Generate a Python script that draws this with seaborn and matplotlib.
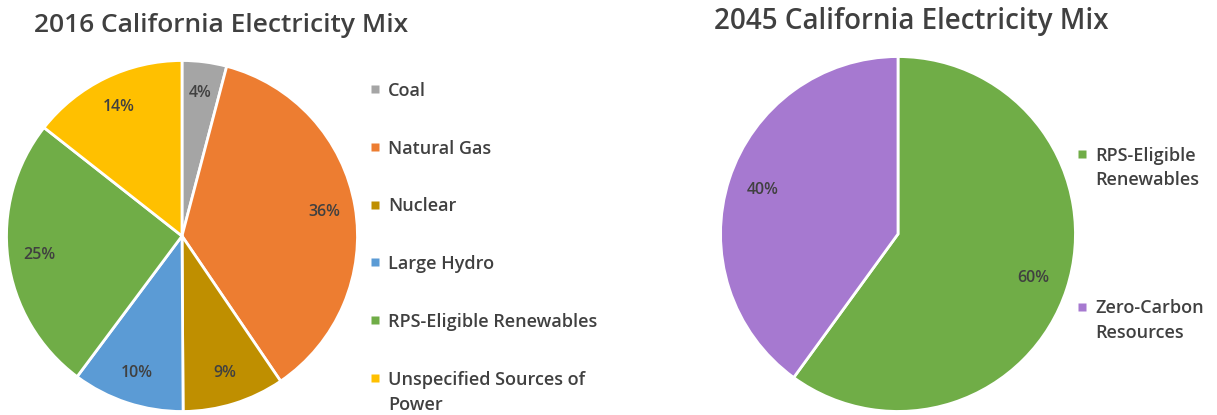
import matplotlib
matplotlib.use("Agg")
import matplotlib.pyplot as plt
from matplotlib.lines import Line2D
import seaborn as sns

# 2016 mix (share of electricity, %)
mix_2016_labels = ['Coal', 'Natural Gas', 'Nuclear', 'Large Hydro',
                   'RPS-Eligible Renewables', 'Unspecified Sources of\nPower']
mix_2016_values = [4.1, 36.4, 9.4, 10.3, 25.4, 14.4]
mix_2016_colors = ['#A5A5A5', '#ED7D31', '#BF8F00', '#5B9BD5', '#70AD47', '#FFC000']

# 2045 target mix
mix_2045_labels = ['RPS-Eligible\nRenewables', 'Zero-Carbon\nResources']
mix_2045_values = [60, 40]
mix_2045_colors = ['#70AD47', '#A679D0']

sns.set_theme(style="white")
plt.rcParams['font.family'] = ['Open Sans', 'DejaVu Sans']

W, H = 1217, 415
fig = plt.figure(figsize=(W / 100, H / 100), dpi=100)
text_col = '#404040'


def draw_pie(rect, values, colors, pctdist):
    ax = fig.add_axes(rect)
    wedges, _, autotexts = ax.pie(values, colors=colors, startangle=90, counterclock=False,
                                  autopct='%.0f%%', pctdistance=pctdist, radius=1,
                                  wedgeprops=dict(edgecolor='white', linewidth=2))
    for t in autotexts:
        t.set_color(text_col)
        t.set_fontsize(11.5)
        t.set_fontweight('semibold')
    ax.set_xlim(-1.02, 1.02)
    ax.set_ylim(-1.02, 1.02)
    ax.set_aspect('equal')
    ax.axis('off')
    return ax


def add_legend(colors, labels, anchor, spacing, linesp):
    handles = [Line2D([], [], marker='s', linestyle='none', markersize=5.5,
                      markerfacecolor=c, markeredgecolor='none') for c in colors]
    leg = fig.legend(handles, labels, loc='upper left', bbox_to_anchor=anchor,
                     frameon=False, fontsize=13, numpoints=1, handlelength=0.7,
                     handleheight=1.0, handletextpad=0.35, labelspacing=spacing,
                     borderpad=0, borderaxespad=0)
    for t in leg.get_texts():
        t.set_color(text_col)
        t.set_fontweight('semibold')
        t.set_linespacing(linesp)
    # keep the marker level with the first line of wrapped labels
    for col in leg._legend_handle_box.get_children():
        for row in col.get_children():
            row.align = 'top'
    return leg


draw_pie([3 / W, 0 / H, 358 / W, 358 / H], mix_2016_values, mix_2016_colors, 0.82)
draw_pie([717 / W, 0 / H, 362 / W, 362 / H], mix_2045_values, mix_2045_colors, 0.8)

fig.text(34 / W, 1 - 25 / H, '2016 California Electricity Mix', fontsize=19,
         fontweight='semibold', color=text_col, va='center', ha='left')
fig.text(714 / W, 1 - 22 / H, '2045 California Electricity Mix', fontsize=20,
         fontweight='semibold', color=text_col, va='center', ha='left')

add_legend(mix_2016_colors, mix_2016_labels, (369 / W, 1 - 82 / H), 2.2, 1.5)
add_legend(mix_2045_colors, mix_2045_labels, (1076 / W, 1 - 147 / H), 6.1, 1.45)

fig.savefig('out.png', dpi=100)
